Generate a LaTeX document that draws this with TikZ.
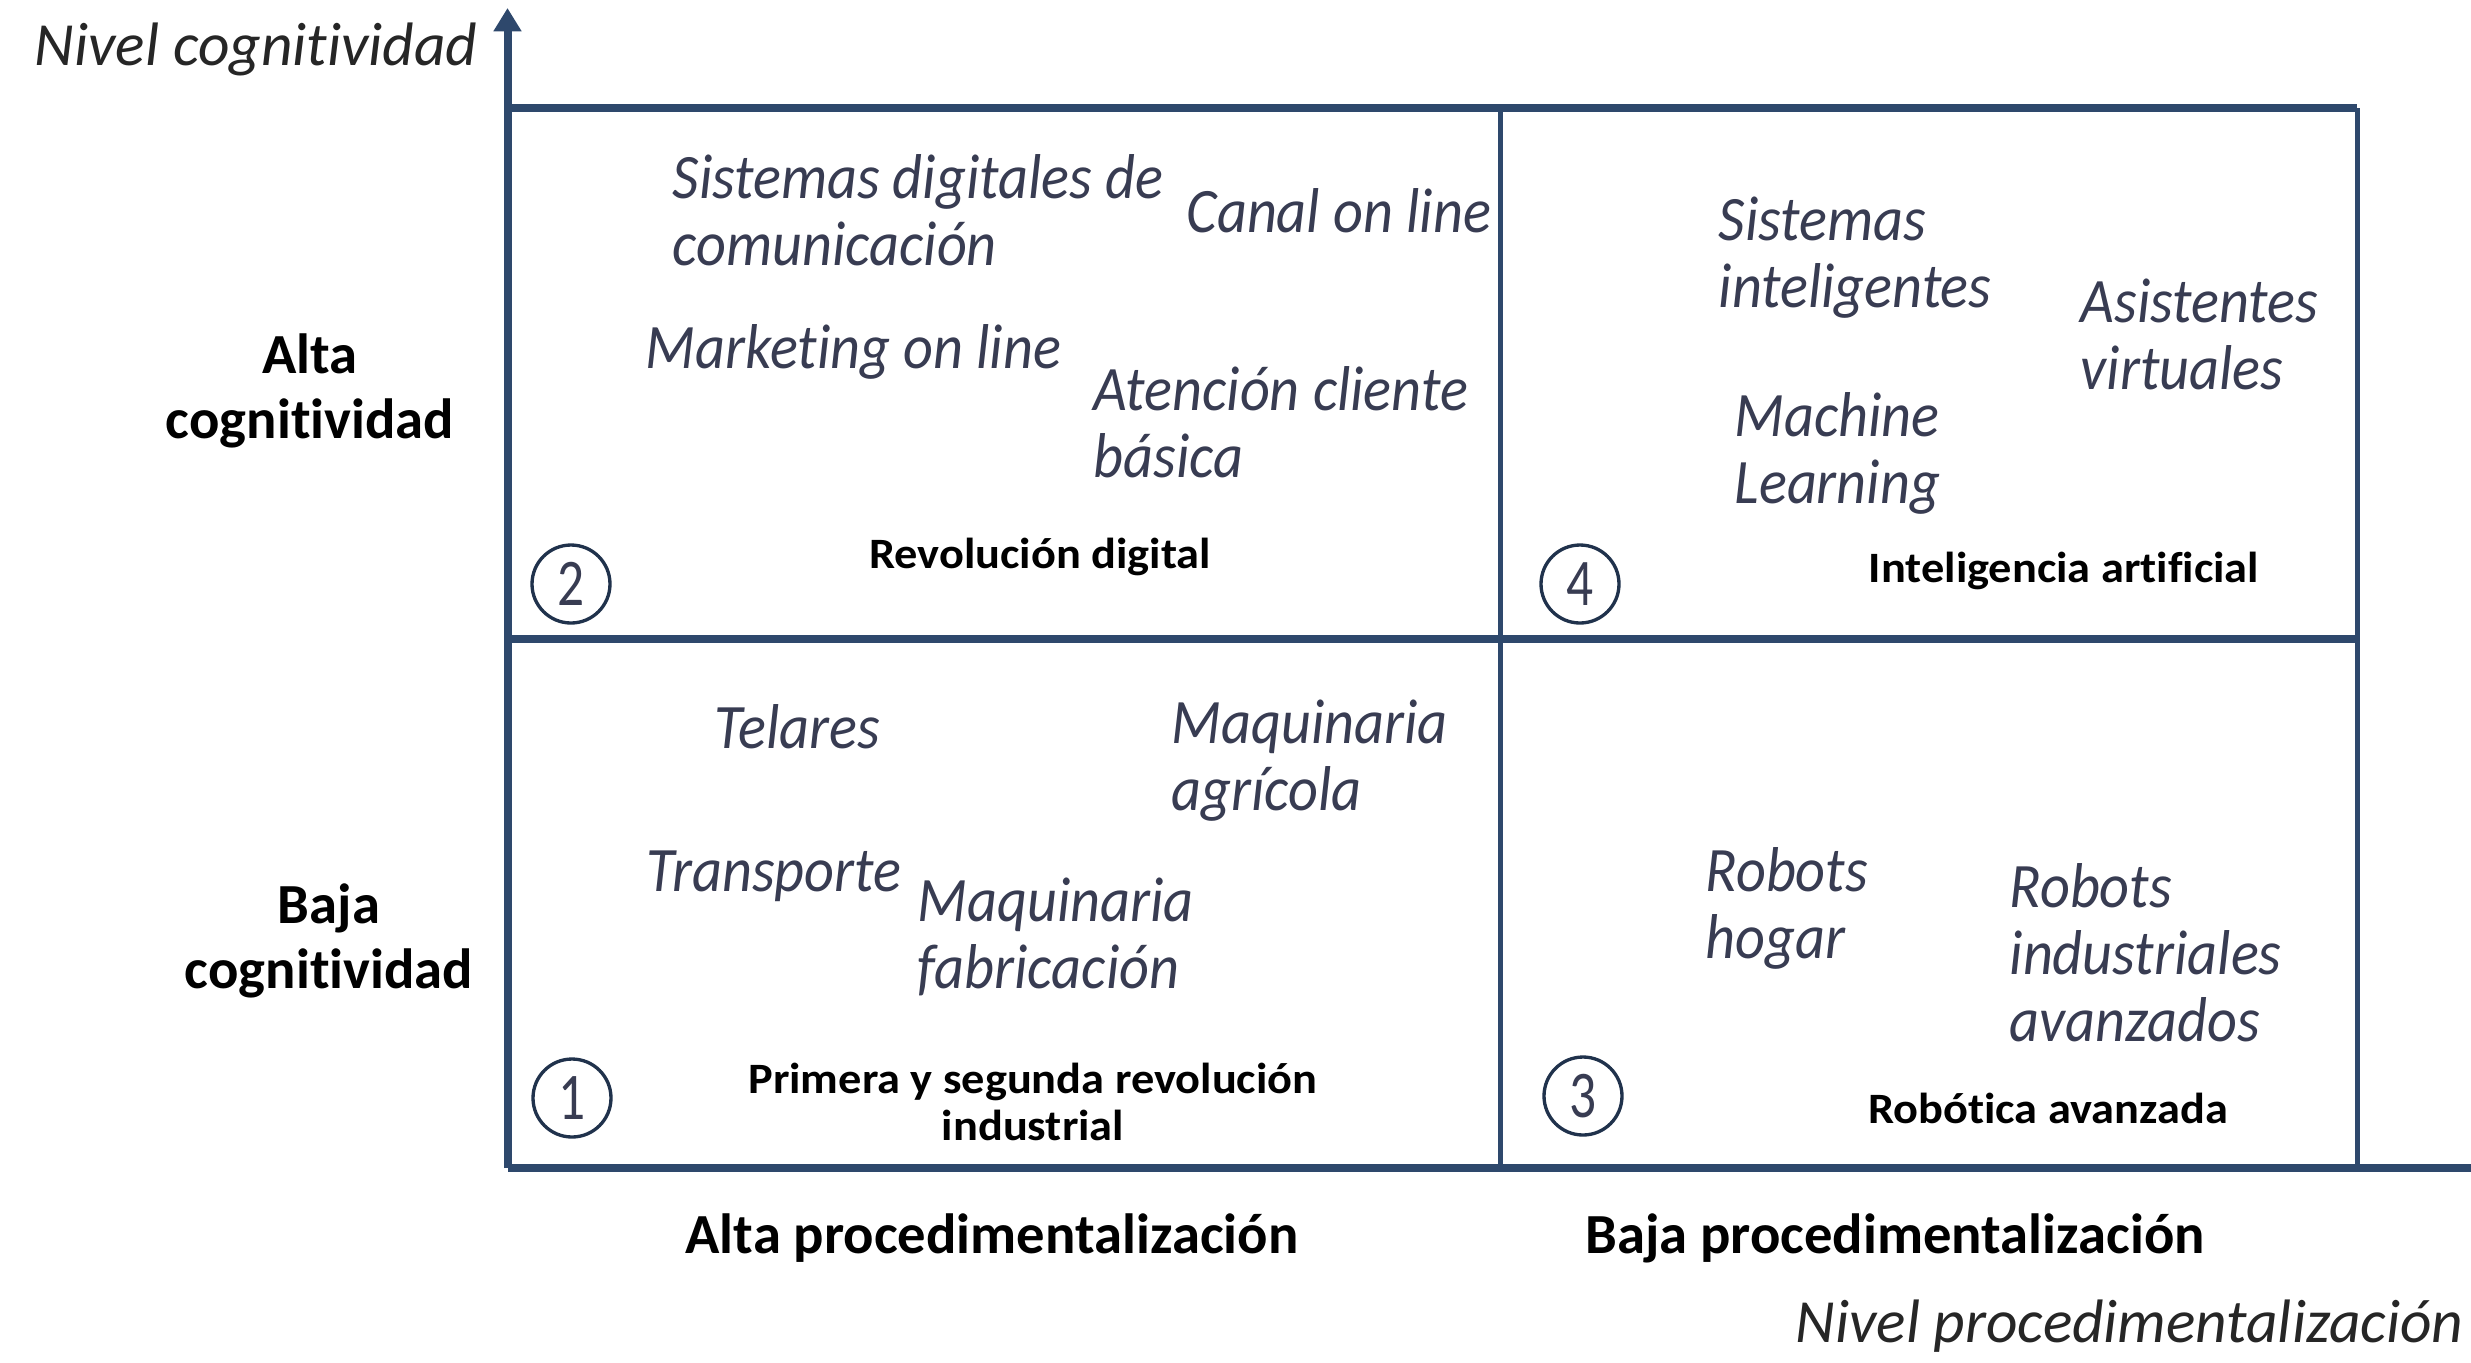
\documentclass[tikz,border=0pt]{standalone}
\usepackage{fontspec}
\setmainfont{Carlito}[Ligatures=NoCommon]
\newfontfamily\itemfont{Carlito}[FakeStretch=0.92, Ligatures=NoCommon]
\newfontfamily\lblfont{Carlito}[FakeStretch=1.07, Ligatures=NoCommon]
\newfontfamily\numfont{Carlito}[FakeStretch=0.8]
\usetikzlibrary{arrows.meta}
\definecolor{navy}{RGB}{46,72,108}
\definecolor{itemcol}{RGB}{56,60,82}
\newcommand\stackL[1]{\begin{tabular}[t]{@{}l@{}}#1\end{tabular}}
\newcommand\stackC[1]{\begin{tabular}[t]{@{}c@{}}#1\end{tabular}}
\begin{document}
\begin{tikzpicture}[x=0.3pt,y=-0.3pt,
  thickline/.style={draw=navy,line width=2.4pt},
  thinline/.style={draw=navy,line width=1.5pt},
  item/.style={font=\itemfont\itshape\fontsize{19}{20.1}\selectfont, text=itemcol, anchor=base west, inner sep=0pt},
  quadtitle/.style={font=\lblfont\bfseries\fontsize{13}{14.1}\selectfont, anchor=base, inner sep=0pt},
  axlabel/.style={font=\bfseries\fontsize{17}{19.5}\selectfont, anchor=base, inner sep=0pt},
  axtitle/.style={font=\itshape\fontsize{18.4}{20}\selectfont, text=black!85, inner sep=0pt},
  numcirc/.style={shape=circle, draw=navy!70!black, line width=1pt, inner sep=0pt, minimum size=23.4pt, font=\numfont\fontsize{20}{20}\selectfont, text=itemcol}
]
\useasboundingbox (0,0) rectangle (2471,1362);
\fill[white] (0,0) rectangle (2471,1362);

% grid coordinates
\coordinate (O) at (507.5,1168);
\coordinate (Ytop) at (507.5,8);
\coordinate (Xend) at (2471,1168);
\coordinate (TL) at (507.5,108);
\coordinate (TR) at (2357,108);
\coordinate (ML) at (507.5,639);
\coordinate (MR) at (2357,639);
\coordinate (MT) at (1500,108);
\coordinate (MB) at (1500,1168);
\coordinate (RB) at (2357,1168);

% grid
\draw[thickline] (TL) -- (TR);
\draw[thickline] (ML) -- (MR);
\draw[thinline] (MT) -- (MB);
\draw[thinline] (TR) -- (RB);
% axes
\draw[thickline] (O) -- (Xend);
\draw[thickline, -{Triangle[length=7pt,width=8pt]}] (O) -- (Ytop);

% axis titles
\node[axtitle, anchor=base east] (ytitle) at (478,65) {Nivel cognitividad};
\node[axtitle, anchor=base east] (xtitle) at (2464,1342) {Nivel procedimentalización};

% axis labels
\node[axlabel] (altacog) at (310,373) {\stackC{Alta\\cognitividad}};
\node[axlabel] (bajacog) at (329,923) {\stackC{Baja\\cognitividad}};
\node[axlabel] (altaproc) at (992,1253) {Alta procedimentalización};
\node[axlabel] (bajaproc) at (1895,1253) {Baja procedimentalización};

% quadrant 2
\node[item] (sdc) at (672,198) {\stackL{Sistemas digitales de\\comunicación}};
\node[item] (canal) at (1186,232) {Canal on line};
\node[item] (mkt) at (645,368) {Marketing on line};
\node[item] (aten) at (1093,410) {\stackL{Atención cliente\\básica}};
\node[numcirc] (n2) at (571,584) {2};
\node[quadtitle] (q2) at (1040,568) {Revolución digital};

% quadrant 4
\node[item] (sint) at (1718,240) {\stackL{Sistemas\\inteligentes}};
\node[item] (asis) at (2080,322) {\stackL{Asistentes\\virtuales}};
\node[item] (ml) at (1734,436) {\stackL{Machine\\Learning}};
\node[numcirc] (n4) at (1580,584) {4};
\node[quadtitle] (q4) at (2064,582) {Inteligencia artificial};

% quadrant 1
\node[item] (tel) at (714,748) {Telares};
\node[item] (magr) at (1171,743) {\stackL{Maquinaria\\agrícola}};
\node[item] (trans) at (646,891) {Transporte};
\node[item] (mfab) at (917,921) {\stackL{Maquinaria\\fabricación}};
\node[numcirc] (n1) at (572,1098) {1};
\node[quadtitle] (q1) at (1033,1093) {\stackC{Primera y segunda revolución\\industrial}};

% quadrant 3
\node[item] (rhog) at (1705,891) {\stackL{Robots\\hogar}};
\node[item] (rind) at (2009,907) {\stackL{Robots\\industriales\\avanzados}};
\node[numcirc] (n3) at (1583,1096) {3};
\node[quadtitle] (q3) at (2048,1123) {Robótica avanzada};
\end{tikzpicture}
\end{document}
